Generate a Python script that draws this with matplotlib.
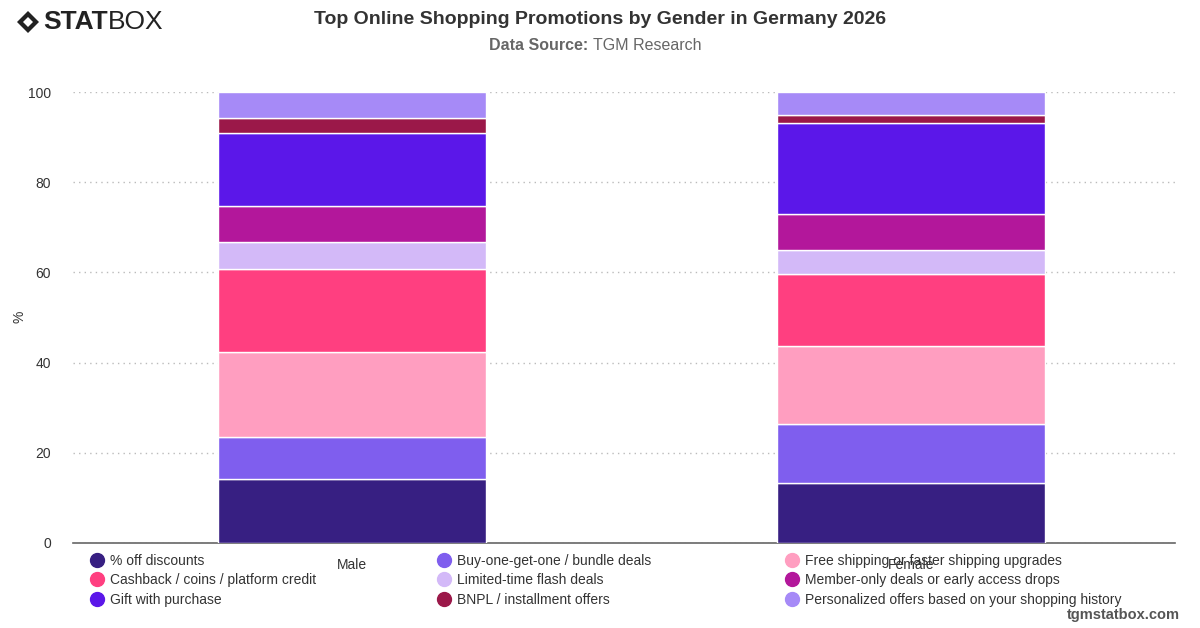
import matplotlib.pyplot as plt
from matplotlib.lines import Line2D
from matplotlib.patches import Polygon
import numpy as np

plt.rcParams['font.family'] = ['Liberation Sans', 'DejaVu Sans']

genders = ['Male', 'Female']
promotions = ['% off discounts', 'Buy-one-get-one / bundle deals',
              'Free shipping or faster shipping upgrades', 'Cashback / coins / platform credit',
              'Limited-time flash deals', 'Member-only deals or early access drops',
              'Gift with purchase', 'BNPL / installment offers',
              'Personalized offers based on your shopping history']
male = [14.1, 9.3, 19.0, 18.3, 6.1, 8.0, 16.1, 3.3, 5.8]
female = [13.2, 13.1, 17.3, 16.0, 5.4, 7.9, 20.2, 1.9, 5.0]
colors = ['#371f82', '#7f5eee', '#ff9ec0', '#ff3f80', '#d3b9f8',
          '#b3179b', '#5b17e9', '#9b1849', '#a68af7']

fig = plt.figure(figsize=(12, 6.28), dpi=100)
ax = fig.add_axes([73 / 1200, 85 / 628, 1102 / 1200, 451 / 628])

x = np.arange(len(genders))
bottom = np.zeros(len(genders))
handles = []
for i, name in enumerate(promotions):
    vals = np.array([male[i], female[i]])
    ax.bar(x, vals, 0.479, bottom=bottom, color=colors[i], edgecolor='white',
           linewidth=1, zorder=3)
    bottom += vals
    handles.append(Line2D([], [], marker='o', linestyle='', markersize=10,
                          markerfacecolor=colors[i], markeredgecolor=colors[i], label=name))

ax.set_xlim(-0.499, 1.472)
ax.set_ylim(0, 100)
ax.set_yticks(range(0, 101, 20))
ax.set_xticks(x)
ax.set_xticklabels(genders, fontsize=10, color='#333333')
ax.tick_params(axis='x', length=0, pad=11)
ax.tick_params(axis='y', length=0, labelsize=10, labelcolor='#333333', pad=16)
ax.yaxis.grid(True, linestyle=(0, (1, 3)), color='#bbbbbb', linewidth=1, zorder=0)
for s in ['left', 'right', 'top']:
    ax.spines[s].set_visible(False)
ax.spines['bottom'].set_color('#666666')
ax.spines['bottom'].set_linewidth(1.2)
fig.text(20 / 1200, 1 - 317 / 628, '%', rotation=90, ha='center', va='center',
         fontsize=10, color='#333333')

# legend in three columns
col_x = [89, 436, 784]
for c in range(3):
    hs = [handles[c + 3 * r] for r in range(3)]
    leg = fig.legend(handles=hs, loc='upper left',
                     bbox_to_anchor=(col_x[c] / 1200, 1 - 554 / 628),
                     frameon=False, fontsize=10, handletextpad=0.3,
                     labelspacing=0.38, handlelength=1.2, borderaxespad=0,
                     borderpad=0, labelcolor='#333333')

fig.text(0.5, 1 - 19 / 628, 'Top Online Shopping Promotions by Gender in Germany 2026',
         ha='center', va='center', fontsize=14, fontweight='bold', color='#333333')
fig.text(588 / 1200, 1 - 45 / 628, 'Data Source:', ha='right', va='center',
         fontsize=11.5, fontweight='bold', color='#666666')
fig.text(593 / 1200, 1 - 45 / 628, 'TGM Research', ha='left', va='center',
         fontsize=11.5, color='#666666')

# logo
fig.patches.append(Polygon([[17 / 1200, 1 - 22 / 628], [28 / 1200, 1 - 11 / 628],
                            [39 / 1200, 1 - 22 / 628], [28 / 1200, 1 - 33 / 628]],
                           closed=True, transform=fig.transFigure, facecolor='#222222'))
fig.patches.append(Polygon([[23 / 1200, 1 - 22 / 628], [28 / 1200, 1 - 17 / 628],
                            [33 / 1200, 1 - 22 / 628], [28 / 1200, 1 - 27 / 628]],
                           closed=True, transform=fig.transFigure, facecolor='white'))
fig.text(43 / 1200, 1 - 22 / 628, 'STAT', ha='left', va='center', fontsize=19,
         fontweight='heavy', color='#222222')
fig.text(108 / 1200, 1 - 22 / 628, 'BOX', ha='left', va='center', fontsize=19,
         color='#222222')

fig.text(1180 / 1200, 1 - 615 / 628, 'tgmstatbox.com', ha='right', va='center',
         fontsize=10.5, fontweight='bold', color='#555555')

fig.savefig('out.png', dpi=100)
